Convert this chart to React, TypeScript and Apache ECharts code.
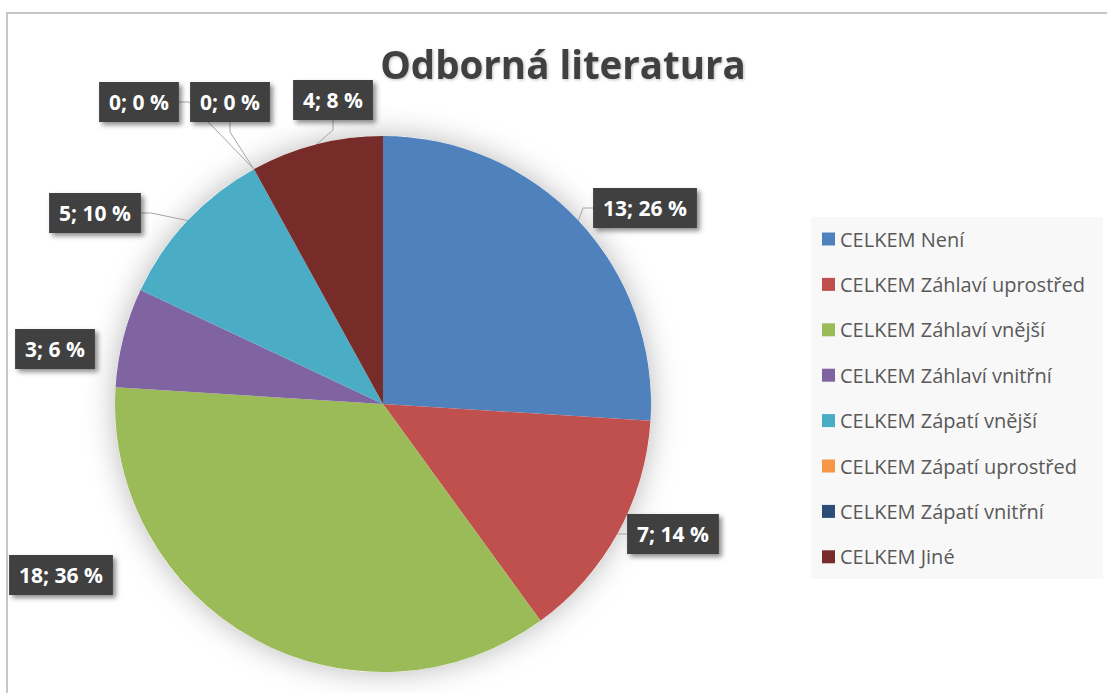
import React, { useEffect, useRef } from "react";
import * as echarts from "echarts";

const titleText = "Odborná literatura";
const categories = [
  "CELKEM Není",
  "CELKEM Záhlaví uprostřed",
  "CELKEM Záhlaví vnější",
  "CELKEM Záhlaví vnitřní",
  "CELKEM Zápatí vnější",
  "CELKEM Zápatí uprostřed",
  "CELKEM Zápatí vnitřní",
  "CELKEM Jiné",
];
const values = [13, 7, 18, 3, 5, 0, 0, 4];
const colors = ["#4F81BD", "#C0504D", "#9BBB59", "#8064A2", "#4BACC6", "#F79646", "#2C4D75", "#772C2A"];
const showLeader = [true, true, false, false, true, true, true, true];

// label box centres (layout only)
const labelCenters: [number, number][] = [
  [645, 208],
  [673, 534],
  [61, 575],
  [55, 349],
  [95, 213],
  [139, 102],
  [230, 102],
  [333, 100],
];

const FONT = "'Open Sans', Lato, sans-serif";

export default function App() {
  const ref = useRef<HTMLDivElement>(null);
  useEffect(() => {
    if (!ref.current) return;
    const chart = echarts.init(ref.current, null, { renderer: "svg" });
    const option: any = {
      animation: false,
      backgroundColor: "#ffffff",
      title: {
        text: titleText,
        left: 563,
        top: 44,
        textAlign: "center",
        padding: 0,
        textStyle: {
          fontFamily: FONT,
          fontWeight: "bold",
          fontSize: 38.5,
          color: "#404040",
          textShadowColor: "rgba(0,0,0,0.25)",
          textShadowBlur: 3,
          textShadowOffsetX: 1,
          textShadowOffsetY: 1,
        },
      },
      graphic: [
        {
          type: "rect",
          z: -10,
          silent: true,
          shape: { x: 7, y: 13, width: 1200, height: 800 },
          style: { fill: "none", stroke: "#c6c6c6", lineWidth: 2 },
        },
        {
          type: "rect",
          z: -10,
          silent: true,
          shape: { x: 811, y: 217, width: 292, height: 362 },
          style: { fill: "#f8f8f8" },
        },
      ],
      legend: {
        orient: "vertical",
        left: 822,
        top: 228,
        padding: 0,
        data: categories,
        icon: "rect",
        itemWidth: 13,
        itemHeight: 13,
        itemGap: 23.4,
        selectedMode: false,
        textStyle: {
          fontFamily: FONT,
          fontSize: 20,
          color: "#595959",
          lineHeight: 22,
        },
      },
      series: [
        {
          type: "pie",
          silent: true,
          center: [383, 404],
          radius: 268,
          label: { show: false },
          labelLine: { show: false },
          data: [
            {
              value: 1,
              name: "",
              itemStyle: {
                color: "#ffffff",
                shadowBlur: 30,
                shadowColor: "rgba(0,0,0,0.28)",
              },
            },
          ],
          z: 1,
        },
        {
          type: "pie",
          center: [383, 404],
          radius: 268,
          startAngle: 90,
          clockwise: true,
          avoidLabelOverlap: false,
          data: categories.map((name, i) => ({
            name,
            value: values[i],
            itemStyle: { color: colors[i] },
            labelLine: { show: showLeader[i] },
          })),
          label: {
            show: true,
            position: "outside",
            formatter: (p: any) => `${p.value}; ${Math.round(p.percent)} %`,
            fontFamily: FONT,
            fontWeight: "bold",
            fontSize: 21,
            lineHeight: 24,
            color: "#ffffff",
            backgroundColor: "#404040",
            padding: [8, 10],
            shadowColor: "rgba(0,0,0,0.45)",
            shadowBlur: 5,
            shadowOffsetX: 3,
            shadowOffsetY: 3,
          },
          labelLine: {
            show: true,
            length: 10,
            length2: 10,
            lineStyle: { color: "#a6a6a6", width: 1 },
          },
          labelLayout: (params: any) => {
            const c = labelCenters[params.dataIndex];
            return {
              x: c[0],
              y: c[1],
              align: "center",
              verticalAlign: "middle",
            };
          },
          z: 2,
        },
      ],
    };
    chart.setOption(option);
    return () => chart.dispose();
  }, []);
  return (
    <div
      ref={ref}
      style={{ position: "fixed", left: 0, top: 0, width: 1107, height: 693 }}
    />
  );
}
